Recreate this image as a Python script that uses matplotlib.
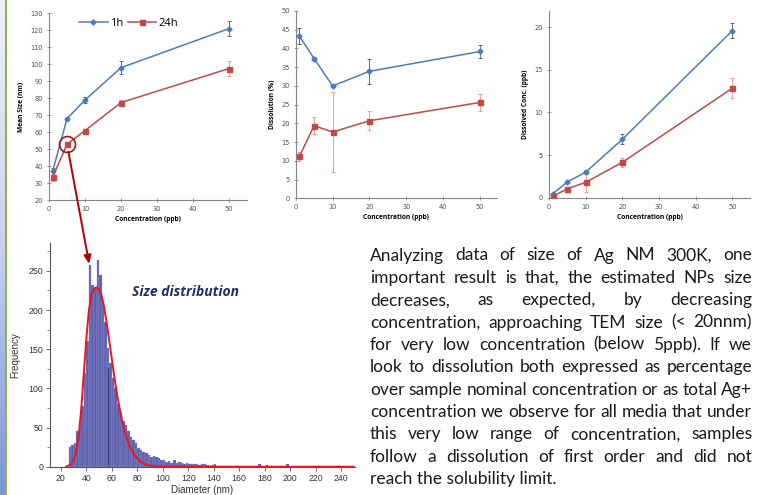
import numpy as np
import matplotlib
matplotlib.use('Agg')
import matplotlib.pyplot as plt
from matplotlib.patches import ConnectionPatch
from matplotlib.lines import Line2D

W, H = 759, 495

# top charts: concentration series (ppb)
conc = [1, 5, 10, 20, 50]

size_1h = [37, 68, 79, 98, 121]
size_1h_err = [2.0, 0.8, 1.8, 3.8, 4.5]
size_24h = [33.5, 53, 61, 77.5, 97.5]
size_24h_err = [2.0, 1.0, 1.0, 1.5, 4.2]

diss_1h = [43.3, 37.3, 30.0, 33.9, 39.2]
diss_1h_err = [2.2, 0.5, 0.3, 3.4, 1.7]
diss_24h = [11.2, 19.4, 17.7, 20.7, 25.6]
diss_24h_err = [1.2, 2.2, 10.8, 2.6, 2.2]

dconc_1h = [0.45, 1.85, 3.0, 6.85, 19.6]
dconc_1h_err = [0.15, 0.15, 0.2, 0.6, 0.9]
dconc_24h = [0.15, 1.05, 1.8, 4.15, 12.85]
dconc_24h_err = [0.1, 0.15, 1.1, 0.5, 1.15]

# size distribution histogram, 2 nm bins starting at 24 nm
bin_start, bin_w = 24, 2
counts = [0, 25, 28, 30, 45, 55, 78, 120, 160, 257,
          232, 230, 264, 245, 210, 185, 152, 132, 113, 100,
          80, 68, 58, 53, 45, 38, 34, 30, 24, 21,
          19, 17, 15, 13, 14, 12, 11, 9, 8, 6,
          7, 5, 8, 5, 6, 5, 4, 5, 4, 3,
          4, 3, 2, 3, 3, 2, 1, 2, 3, 1,
          0, 1, 1, 0, 1, 0, 1, 1]
tail_d = [175, 181, 197]
tail_n = [3, 2, 4]

fit_d = [24, 28, 30, 32, 34, 36, 38, 40, 42, 44, 46, 48, 50, 52, 54, 56, 58,
         60, 62, 64, 66, 68, 70, 72, 75, 78, 82, 86, 90, 95, 100, 110, 250]
fit_n = [0, 3, 8, 20, 40, 75, 120, 165, 200, 220, 227, 229, 226, 218, 203, 183, 160,
         137, 114, 93, 75, 59, 46, 35, 23, 14, 7, 3, 1.5, 0.5, 0, 0, 0]

text_lines = [
    "Analyzing data of size of Ag NM 300K, one",
    "important result is that, the estimated NPs size",
    "decreases, as expected, by decreasing",
    "concentration, approaching TEM size (< 20nnm)",
    "for very low concentration (below 5ppb). If we",
    "look to dissolution both expressed as percentage",
    "over sample nominal concentration or as total Ag+",
    "concentration we observe for all media that under",
    "this very low range of concentration, samples",
    "follow a dissolution of first order and did not",
    "reach the solubility limit.",
]

BLUE, RED = '#4a7ebb', '#be4b48'
BLUE_ERR, RED_ERR = '#505050', '#f08a8a'

fig = plt.figure(figsize=(W / 100, H / 100), dpi=100)
fig.patch.set_facecolor('white')


def px_axes(l, t, r, b):
    return fig.add_axes([l / W, 1 - b / H, (r - l) / W, (b - t) / H])


# left decorative strip
strip = fig.add_axes([0, 0, 5 / W, 1])
grad = np.linspace(0, 1, 256).reshape(-1, 1)
strip.imshow(grad, aspect='auto', cmap=matplotlib.colors.LinearSegmentedColormap.from_list(
    'strip', ['#eef1f9', '#c6d2ee', '#7b94d6']), extent=[0, 1, 1, 0])
strip.axis('off')
fig.add_artist(Line2D([5.8 / W, 5.8 / W], [0, 1], color='#8aa832', lw=1.3))


def style_top(ax, ylab, ylim, yticks):
    ax.set_ylim(*ylim)
    ax.set_yticks(yticks)
    ax.set_xticks([0, 10, 20, 30, 40, 50])
    for s in ['top', 'right']:
        ax.spines[s].set_visible(False)
    for s in ['left', 'bottom']:
        ax.spines[s].set_color('#868686')
        ax.spines[s].set_linewidth(0.8)
    ax.tick_params(direction='inout', length=3.5, width=0.6, color='#868686',
                   labelsize=4.8, labelcolor='#505050', pad=2.5)
    ax.set_ylabel(ylab, fontsize=4.8, fontweight='bold', family='Open Sans', labelpad=4)
    ax.set_xlabel('Concentration (ppb)', fontsize=4.8, fontweight='bold',
                  family='Open Sans', labelpad=3)


def series(ax, y1, e1, y2, e2):
    ax.errorbar(conc, y1, yerr=e1, fmt='none', ecolor=BLUE_ERR, elinewidth=0.6,
                capsize=1.6, capthick=0.6, zorder=2)
    ax.errorbar(conc, y2, yerr=e2, fmt='none', ecolor=RED_ERR, elinewidth=0.6,
                capsize=1.6, capthick=0.6, zorder=2)
    h1, = ax.plot(conc, y1, color=BLUE, lw=1.1, marker='D', ms=2.6, zorder=3, label='1h')
    h2, = ax.plot(conc, y2, color=RED, lw=1.1, marker='s', ms=3.6, zorder=3, label='24h')
    return h1, h2


# chart 1: mean size
ax1 = px_axes(49, 13.3, 247, 200.3)
ax1.set_xlim(0, 55)
h1, h2 = series(ax1, size_1h, size_1h_err, size_24h, size_24h_err)
style_top(ax1, 'Mean Size (nm)', (20, 130), range(20, 131, 10))
ax1.legend(handles=[h1, h2], ncol=2, frameon=False, loc='upper left',
           bbox_to_anchor=(0.1, 1.03), handlelength=2.6, columnspacing=0.4,
           handletextpad=0.2, prop={'family': 'Open Sans', 'size': 8})
ax1.plot([conc[1]], [size_24h[1]], 'o', ms=11.5, mfc='none', mec='#a31515', mew=1.2, zorder=4)

# chart 2: dissolution
ax2 = px_axes(295.7, 11, 496.7, 198.3)
ax2.set_xlim(0, 54.5)
series(ax2, diss_1h, diss_1h_err, diss_24h, diss_24h_err)
style_top(ax2, 'Dissolution (%)', (0, 50), range(0, 51, 5))

# chart 3: dissolved concentration
ax3 = px_axes(549, 11, 750, 197.7)
ax3.set_xlim(0, 54.8)
series(ax3, dconc_1h, dconc_1h_err, dconc_24h, dconc_24h_err)
style_top(ax3, 'Dissolved Conc. (ppb)', (0, 21.9), range(0, 21, 5))

# histogram
ax4 = px_axes(50, 242.7, 355, 466.7)
lefts = bin_start + bin_w * np.arange(len(counts))
ax4.bar(lefts, counts, width=bin_w, align='edge', color='#5d60ad',
        edgecolor='#9c9ed6', linewidth=0.25, zorder=2)
ax4.bar(tail_d, tail_n, width=bin_w, align='edge', color='#5d60ad', zorder=2)
ax4.plot([56.7, 56.7], [0, 126], color='#2a2f75', lw=0.6, zorder=3)
ax4.plot(fit_d, fit_n, color='#e8171b', lw=1.4, zorder=4)
ax4.set_xlim(11.4, 251)
ax4.set_ylim(0, 286)
ax4.set_xticks(range(20, 241, 20))
ax4.set_yticks(range(0, 251, 50))
ax4.set_yticks(range(25, 286, 50), minor=True)
for s in ['top', 'right']:
    ax4.spines[s].set_visible(False)
for s in ['left', 'bottom']:
    ax4.spines[s].set_color('#555555')
    ax4.spines[s].set_linewidth(0.8)
ax4.tick_params(direction='out', length=3, width=0.6, color='#555555',
                labelsize=6.3, labelcolor='#333333', pad=2)
ax4.tick_params(which='minor', direction='out', length=2, width=0.5, color='#555555')
ax4.set_xlabel('Diameter (nm)', fontsize=7, color='#333333', labelpad=2,
               family='Liberation Sans')
ax4.set_ylabel('Frequency', fontsize=7, color='#333333', labelpad=6,
               family='Liberation Sans')
for lab in ax4.get_xticklabels() + ax4.get_yticklabels():
    lab.set_family('Liberation Sans')
fig.text(185 / W, 1 - 292 / H, 'Size distribution', ha='center', va='center',
         fontsize=10, fontweight='bold', fontstyle='italic', color='#1f2d6b',
         family='Open Sans')

# arrow from circled point to histogram peak
arrow = ConnectionPatch(xyA=(conc[1], size_24h[1]), coordsA=ax1.transData,
                        xyB=(42.2, 259), coordsB=ax4.transData,
                        arrowstyle='-|>,head_length=0.5,head_width=0.22',
                        color='#b00000', lw=1.4, shrinkA=5.5, shrinkB=0,
                        mutation_scale=10, zorder=10)
fig.add_artist(arrow)

# justified paragraph
body_font = 'Lato'
fig.canvas.draw()
rend = fig.canvas.get_renderer()


def text_w(s, fs):
    t = fig.text(0, 0, s, fontsize=fs, family=body_font)
    w = t.get_window_extent(rend).width
    t.remove()
    return w


x0, x1 = 370, 752
base_fs = 12
widest = max(text_w(l, base_fs) for l in text_lines)
fs = base_fs * (x1 - x0) / widest
y_first, y_step = 260.5, 22.35
for i, line in enumerate(text_lines):
    yb = 1 - (y_first + i * y_step) / H
    words = line.split()
    if i == len(text_lines) - 1:
        fig.text(x0 / W, yb, line, fontsize=fs, family=body_font, va='baseline',
                 color='#1a1a1a')
        continue
    widths = [text_w(w, fs) for w in words]
    gap = (x1 - x0 - sum(widths)) / (len(words) - 1)
    x = x0
    for w, wd in zip(words, widths):
        fig.text(x / W, yb, w, fontsize=fs, family=body_font, va='baseline',
                 color='#1a1a1a')
        x += wd + gap

fig.savefig('out.png', dpi=100, facecolor='white')
